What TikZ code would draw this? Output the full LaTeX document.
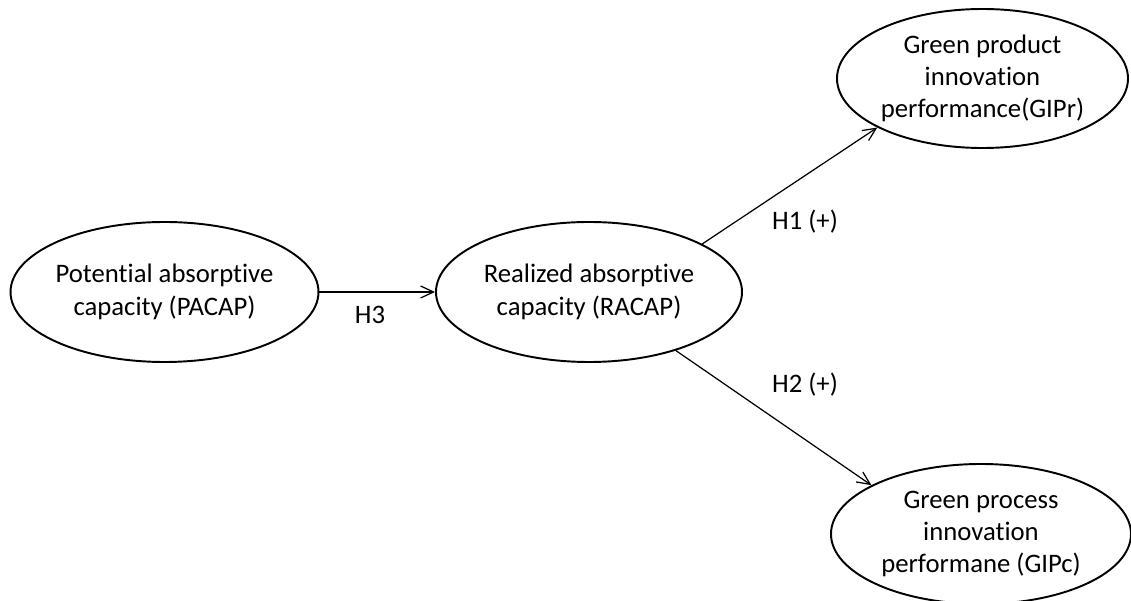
\documentclass[tikz,border=0pt]{standalone}
\usepackage{fontspec}
\setmainfont{Carlito}[Ligatures=NoCommon]
\usetikzlibrary{arrows.meta, positioning, shapes.geometric}
\tikzset{
    construct/.style={ellipse, draw=black, line width=1.1pt, inner sep=0pt, align=center, font=\fontsize{15.2}{18.4}\selectfont},
    hyparrow/.style={-{Straight Barb[length=2.6mm,width=2.4mm]}, line width=0.7pt, draw=black},
    hyplabel/.style={font=\fontsize{15.2}{18.4}\selectfont, inner sep=0pt}
}

\begin{document}
\begin{tikzpicture}
    \useasboundingbox (0,0) rectangle (22.62,-12.02);
    \node[construct, minimum width=6.1cm, minimum height=2.8cm] (PACAP) at (3.29,-5.84) {Potential absorptive\\capacity (PACAP)};
    \node[construct, minimum width=6.12cm, minimum height=2.8cm] (RACAP) at (11.78,-5.84) {Realized absorptive\\capacity (RACAP)};
    \node[construct, minimum width=5.82cm, minimum height=2.78cm] (GIPr) at (19.65,-1.57) {Green product\\innovation\\performance(GIPr)};
    \node[construct, minimum width=6cm, minimum height=2.8cm] (GIPc) at (19.62,-10.68) {Green process\\innovation\\performane (GIPc)};

    % Hypotheses
    \draw[hyparrow] (PACAP.east) -- (RACAP.west);
    \draw[hyparrow] (RACAP.23) -- (GIPr.205);
    \draw[hyparrow] (RACAP.-34) -- (GIPc.156);

    \node[hyplabel] (h3) at (7.4,-6.3) {H3};
    \node[hyplabel] (h1) at (16.1,-4.44) {H1 (+)};
    \node[hyplabel] (h2) at (16.1,-7.7) {H2 (+)};
\end{tikzpicture}
\end{document}
